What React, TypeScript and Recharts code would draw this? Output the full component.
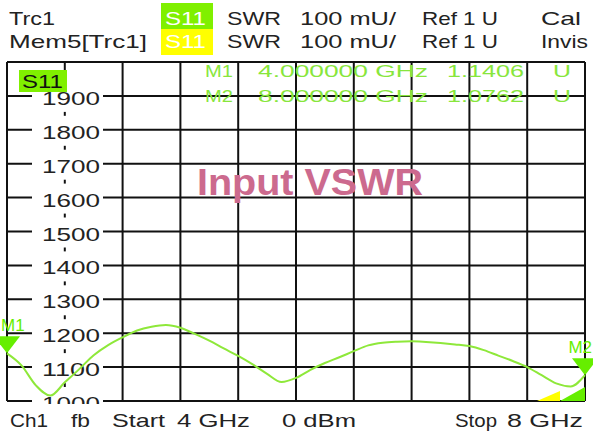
import React from 'react';
import { LineChart, Line, XAxis, YAxis, CartesianGrid, ReferenceDot } from 'recharts';

// sweep 4..8 GHz, 0.1 GHz steps
const freqGHz = [
  4.0, 4.1, 4.2, 4.3, 4.4, 4.5, 4.6, 4.7, 4.8, 4.9,
  5.0, 5.1, 5.2, 5.3, 5.4, 5.5, 5.6, 5.7, 5.8, 5.9,
  6.0, 6.1, 6.2, 6.3, 6.4, 6.5, 6.6, 6.7, 6.8, 6.9,
  7.0, 7.1, 7.2, 7.3, 7.4, 7.5, 7.6, 7.7, 7.8, 7.9, 8.0,
];
// S11 SWR in mU
const swrMilli = [
  1140.6, 1105, 1046, 1016, 1055, 1094, 1135, 1165, 1188, 1208,
  1219, 1224, 1216, 1198, 1178, 1155, 1133, 1108, 1080, 1056,
  1068, 1092, 1112, 1129, 1147, 1164, 1172, 1175, 1176, 1174,
  1171, 1167, 1162, 1150, 1134, 1118, 1100, 1076, 1052, 1043, 1076.2,
];
const freqTicks = [4, 4.4, 4.8, 5.2, 5.6, 6, 6.4, 6.8, 7.2, 7.6, 8];
const swrTicks = [1000, 1100, 1200, 1300, 1400, 1500, 1600, 1700, 1800, 1900, 2000];
const markerNames = ['M1', 'M2'];
const markerFreqs = [4, 8];
const markerValues = [1140.6, 1076.2];
const markerFreqText = ['4.000000 GHz', '8.000000 GHz'];
const markerValueText = ['1.1406', '1.0762'];

const data = freqGHz.map((f, i) => ({ freq: f, swr: swrMilli[i] }));

const FONT = "'Liberation Sans', Arial, sans-serif";
const TRACE = '#8ee83a';
const MARK = '#66ee00';
const W = 593;
const H = 434;
// both layers end up with the plot at x 7..585, y 62..401
const GRID_MARGIN = { top: 62, right: 8, bottom: 32, left: 6 };
const TRACE_MARGIN = { top: 62, right: 8, bottom: 33, left: 7 };

const SwrTick = (props: any) => {
  const { y, payload } = props;
  if (payload.value >= 2000) return <g />;
  return (
    <g>
      <rect x={32} y={y - 14} width={71} height={30} fill="#fff" />
      <text x={42} y={y + 9} textLength={58} lengthAdjust="spacingAndGlyphs"
        fontSize={19} fill="#222" fontFamily={FONT}>{payload.value}</text>
    </g>
  );
};

const NoTick = () => <g />;

const markerShape = (name: string, anchor: 'start' | 'end') => (props: any) => {
  const { cx, cy } = props;
  return (
    <g>
      <polygon points={`${cx - 13},${cy - 17} ${cx + 13},${cy - 17} ${cx},${cy}`} fill={MARK} />
      <text x={anchor === 'start' ? 1 : 592} y={cy - 22} textAnchor={anchor} fontSize={17}
        fill={MARK} fontFamily={FONT}>{name}</text>
    </g>
  );
};

const edgeFlags = (props: any) => {
  const { cx, cy } = props;
  return (
    <g>
      <polygon points={`${cx - 48},${cy} ${cx - 25},${cy} ${cx - 25},${cy - 10}`} fill="#ffff00" />
      <polygon points={`${cx - 25},${cy} ${cx},${cy} ${cx},${cy - 14}`} fill={MARK} />
    </g>
  );
};

const T = ({ x, y, w, size = 19, fill = '#222', weight = 400, children }: any) => (
  <text x={x} y={y} textLength={w} lengthAdjust="spacingAndGlyphs" fontSize={size}
    fill={fill} fontWeight={weight} fontFamily={FONT}>{children}</text>
);

const layer: React.CSSProperties = { position: 'absolute', left: 0, top: 0 };

export default function App() {
  return (
    <div style={{ ...layer, width: W, height: H, background: '#fff', overflow: 'hidden' }}>
      {/* grid + scale labels */}
      <div style={layer}>
        <LineChart width={W} height={H} data={data} margin={GRID_MARGIN}>
          <CartesianGrid stroke="#111" strokeWidth={2} />
          <XAxis dataKey="freq" type="number" domain={[4, 8]} ticks={freqTicks} interval={0}
            height={1} tick={NoTick} tickLine={false} axisLine={false} />
          <YAxis type="number" domain={[1000, 2000]} ticks={swrTicks} width={1} interval={0}
            tick={SwrTick} tickLine={false} axisLine={false} />
          <Line dataKey="swr" stroke="none" dot={false} isAnimationActive={false} />
        </LineChart>
      </div>
      {/* trace + markers on top of the scale labels */}
      <div style={layer}>
        <LineChart width={W} height={H} data={data} margin={TRACE_MARGIN}>
          <XAxis dataKey="freq" type="number" domain={[4, 8]} hide />
          <YAxis type="number" domain={[1000, 2000]} hide />
          <Line dataKey="swr" type="monotone" stroke={TRACE} strokeWidth={2}
            dot={false} isAnimationActive={false} />
          <ReferenceDot x={8} y={1000} r={0} shape={edgeFlags} />
          {markerNames.map((n, i) => (
            <ReferenceDot key={n} x={markerFreqs[i]} y={markerValues[i]} r={0}
              shape={markerShape(n, i === 0 ? 'start' : 'end')} />
          ))}
        </LineChart>
      </div>
      <svg width={W} height={H} style={{ ...layer, pointerEvents: 'none' }}>
        {/* header */}
        <rect x={161} y={3} width={52} height={26} fill="#80f000" />
        <rect x={161} y={29} width={52} height={26} fill="#ffff00" />
        <T x={9} y={25} w={46}>Trc1</T>
        <T x={165} y={25} w={41} fill="#fff">S11</T>
        <T x={227} y={25} w={54}>SWR</T>
        <T x={300} y={25} w={96}>100 mU/</T>
        <T x={422} y={25} w={76}>Ref 1 U</T>
        <T x={541} y={25} w={40}>Cal</T>
        <T x={9} y={48} w={138}>Mem5[Trc1]</T>
        <T x={165} y={48} w={41} fill="#fff">S11</T>
        <T x={227} y={48} w={54}>SWR</T>
        <T x={300} y={48} w={96}>100 mU/</T>
        <T x={422} y={48} w={76}>Ref 1 U</T>
        <T x={541} y={48} w={47}>Invis</T>
        {/* trace tag */}
        <rect x={19} y={70} width={48} height={22} fill="#80f000" />
        <T x={22} y={88} w={41} fill="#111">S11</T>
        {/* marker readout */}
        {markerNames.map((n, i) => (
          <g key={n}>
            <T x={205} y={77 + i * 25} w={28} size={17} fill="#88e63c">{n}</T>
            <T x={258} y={77 + i * 25} w={170} size={17} fill="#88e63c">{markerFreqText[i]}</T>
            <T x={447} y={77 + i * 25} w={77} size={17} fill="#88e63c">{markerValueText[i]}</T>
            <T x={553} y={77 + i * 25} w={18} size={17} fill="#88e63c">U</T>
          </g>
        ))}
        <T x={197} y={195} w={226} size={36} weight={700} fill="#cc6a8e">Input VSWR</T>
        {/* footer */}
        <rect x={0} y={404} width={W} height={30} fill="#fff" />
        <T x={10} y={427} w={38}>Ch1</T>
        <T x={71} y={427} w={19}>fb</T>
        <T x={112} y={427} w={53}>Start</T>
        <T x={177} y={427} w={73}>4 GHz</T>
        <T x={282} y={427} w={74}>0 dBm</T>
        <T x={455} y={427} w={42}>Stop</T>
        <T x={507} y={427} w={76}>8 GHz</T>
      </svg>
    </div>
  );
}
